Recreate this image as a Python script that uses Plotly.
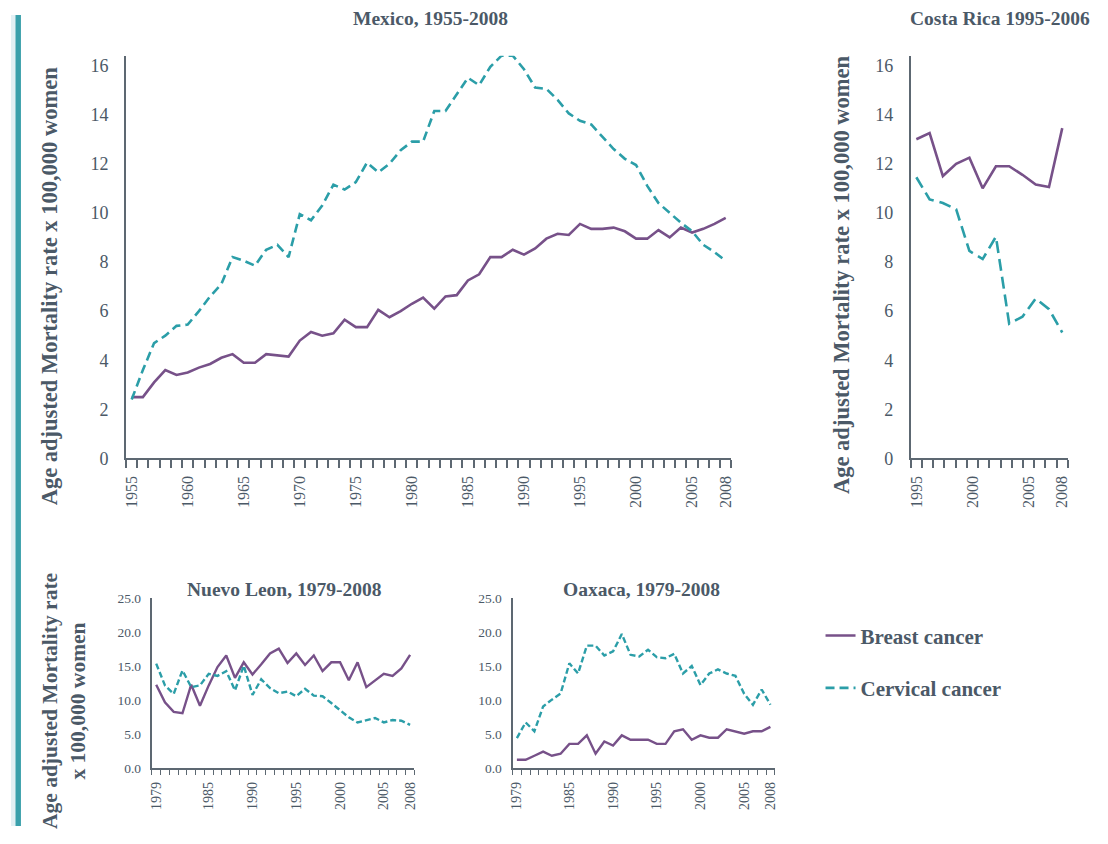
import plotly.graph_objects as go

# the page keeps the browser's default 8px body margin, so the figure is 16px smaller
OFF = 8
FW, FH = 1108 - 2 * OFF, 844 - 2 * OFF
# small vertical correction measured from earlier renders (pixels squeeze ~2% about mid-height)
VSCALE, VMID = 0.98, 422

purple = "#775189"
teal = "#2b9ea8"
axis_col = "#5d6872"
text_col = "#4b5967"
font_fam = "Liberation Serif"

# Mexico, 1955-2008
mx_years = list(range(1955, 2009))
mx_breast = [2.5, 2.5, 3.1, 3.6, 3.4, 3.5, 3.7, 3.85, 4.1, 4.25,
             3.9, 3.9, 4.25, 4.2, 4.15, 4.8, 5.15, 5.0, 5.1, 5.65,
             5.35, 5.35, 6.05, 5.75, 6.0, 6.3, 6.55, 6.1, 6.6, 6.65,
             7.25, 7.5, 8.2, 8.2, 8.5, 8.3, 8.55, 8.95, 9.15, 9.1,
             9.55, 9.35, 9.35, 9.4, 9.25, 8.95, 8.95, 9.3, 9.0, 9.4,
             9.2, 9.35, 9.55, 9.8]
mx_cervical = [2.4, 3.6, 4.7, 5.0, 5.4, 5.45, 6.0, 6.6, 7.1, 8.2,
               8.05, 7.85, 8.5, 8.7, 8.2, 9.95, 9.7, 10.3, 11.15, 10.95,
               11.25, 12.05, 11.65, 12.0, 12.55, 12.9, 12.9, 14.15, 14.15, 14.85,
               15.5, 15.2, 15.95, 16.4, 16.4, 15.85, 15.1, 15.05, 14.6, 14.05,
               13.75, 13.6, 13.1, 12.6, 12.2, 11.95, 11.1, 10.4, 10.0, 9.6,
               9.25, 8.7, 8.4, 8.05]
mx_ticks = [1955, 1960, 1965, 1970, 1975, 1980, 1985, 1990, 1995, 2000, 2005, 2008]

# Costa Rica 1995-2006 (12 data years drawn across a 1995-2008 category axis)
cr_years = list(range(1995, 2007))
cr_breast = [13.0, 13.25, 11.5, 12.0, 12.25, 11.0, 11.9, 11.9, 11.55, 11.15, 11.05, 13.45]
cr_cervical = [11.45, 10.55, 10.4, 10.15, 8.45, 8.12, 9.03, 5.49, 5.77, 6.51, 6.08, 5.13]
cr_axis_years = list(range(1995, 2009))
cr_ticks = [1995, 2000, 2005, 2008]

# Nuevo Leon and Oaxaca, 1979-2008
st_years = list(range(1979, 2009))
nl_breast = [12.3, 9.7, 8.3, 8.1, 12.3, 9.2, 12.2, 14.9, 16.6, 13.3,
             15.6, 13.8, 15.3, 16.9, 17.6, 15.5, 16.9, 15.2, 16.6, 14.3,
             15.6, 15.6, 12.95, 15.6, 11.95, 12.95, 13.9, 13.6, 14.7, 16.7]
nl_cervical = [15.4, 12.2, 10.95, 14.4, 11.95, 12.2, 13.9, 13.6, 14.3, 11.45,
               15.1, 10.8, 13.1, 11.8, 11.05, 11.3, 10.6, 11.7, 10.7, 10.6,
               9.6, 8.6, 7.5, 6.75, 7.1, 7.4, 6.75, 7.1, 7.0, 6.4]
ox_breast = [1.25, 1.25, 1.85, 2.45, 1.85, 2.15, 3.6, 3.6, 4.85, 2.15,
             3.95, 3.35, 4.85, 4.2, 4.2, 4.2, 3.6, 3.6, 5.45, 5.75,
             4.2, 4.85, 4.5, 4.5, 5.75, 5.45, 5.1, 5.45, 5.45, 6.1]
ox_cervical = [4.45, 6.75, 5.45, 9.1, 10.1, 11.0, 15.45, 13.95, 18.05, 18.05,
               16.6, 17.2, 19.75, 16.7, 16.45, 17.45, 16.35, 16.2, 16.85, 13.95,
               15.05, 12.25, 13.95, 14.55, 13.95, 13.6, 10.95, 9.35, 11.6, 9.35]
st_ticks = [1979, 1985, 1990, 1995, 2000, 2005, 2008]

y_title = "Age adjusted Mortality rate x 100,000 women"


def fx(px):
    return (px - OFF) / FW


def fy(px):
    px = VMID + (px - VMID) / VSCALE
    return 1 - (px - OFF) / FH


def px_x(a, b):
    return [fx(a), fx(b)]


def px_y(top, bottom):
    return [fy(bottom), fy(top)]


fig = go.Figure()

def add_pair(x, breast, cervical, xa, ya, dash, width=2.6, legend=False):
    fig.add_trace(go.Scatter(x=x, y=breast, mode="lines", name="Breast cancer",
                             line=dict(color=purple, width=width),
                             xaxis=xa, yaxis=ya, showlegend=legend, legendgroup="b"))
    fig.add_trace(go.Scatter(x=x, y=cervical, mode="lines", name="Cervical cancer",
                             line=dict(color=teal, width=width, dash=dash),
                             xaxis=xa, yaxis=ya, showlegend=legend, legendgroup="c"))

add_pair(mx_years, mx_breast, mx_cervical, "x", "y", "9px,5px", legend=True)
add_pair(cr_years, cr_breast, cr_cervical, "x3", "y2", "12px,6px")
add_pair(st_years, nl_breast, nl_cervical, "x4", "y4", "6px,3px", width=2.4)
add_pair(st_years, ox_breast, ox_cervical, "x5", "y5", "6px,3px", width=2.4)

# empty trace so the labelled Costa Rica category axis gets drawn
fig.add_trace(go.Scatter(x=cr_axis_years, y=[None] * len(cr_axis_years), mode="lines",
                         xaxis="x2", yaxis="y2", showlegend=False, hoverinfo="skip"))

base_x = dict(showline=True, linecolor=axis_col, linewidth=2, showgrid=False,
              zeroline=False, ticks="", tickangle=-90, ticklabelstandoff=9,
              tickfont=dict(family=font_fam, size=16, color=text_col))
base_y = dict(showline=True, linecolor=axis_col, linewidth=2, showgrid=False,
              zeroline=False, ticks="", ticklabelstandoff=12,
              tickfont=dict(family=font_fam, size=18, color=text_col))
small_xfont = dict(family=font_fam, size=14, color=text_col)
small_yfont = dict(family=font_fam, size=13.5, color=text_col)

fig.update_layout(
    xaxis=dict(base_x, domain=px_x(123.7, 732.3), range=[1954.5, 2008.5],
               tickvals=mx_ticks, anchor="y",
               minor=dict(ticks="outside", tick0=1954.5, dtick=1, ticklen=8,
                          tickcolor=axis_col, tickwidth=1.5)),
    yaxis=dict(base_y, domain=px_y(57, 460), range=[0, 16.4], dtick=2, anchor="x"),
    xaxis2=dict(base_x, domain=px_x(912.7, 1070.7),
                range=[cr_axis_years[0] - 0.5, cr_axis_years[-1] + 0.5],
                tickvals=cr_ticks, anchor="y2",
                minor=dict(ticks="outside", tick0=1994.5, dtick=1, ticklen=8,
                           tickcolor=axis_col, tickwidth=1.5)),
    xaxis3=dict(overlaying="x2", visible=False, domain=px_x(912.7, 1070.7),
                range=[cr_years[0] - 0.5 * (len(cr_years) - 1) / (len(cr_axis_years) - 1),
                       cr_years[-1] + 0.5 * (len(cr_years) - 1) / (len(cr_axis_years) - 1)],
                anchor="y2"),
    yaxis2=dict(base_y, domain=px_y(57, 460), range=[0, 16.4], dtick=2, anchor="x2"),
    xaxis4=dict(base_x, domain=px_x(149.6, 413.7), range=[1978.5, 2008.5],
                tickvals=st_ticks, anchor="y4", ticklabelstandoff=6, tickfont=small_xfont,
                minor=dict(ticks="outside", tick0=1978.5, dtick=1, ticklen=5,
                           tickcolor=axis_col, tickwidth=1.2)),
    yaxis4=dict(base_y, domain=px_y(600, 770), range=[0, 25], dtick=5, tickformat=".1f",
                anchor="x4", ticklabelstandoff=6, tickfont=small_yfont),
    xaxis5=dict(base_x, domain=px_x(512.3, 776), range=[1978.5, 2008.5],
                tickvals=st_ticks, anchor="y5", ticklabelstandoff=6, tickfont=small_xfont,
                minor=dict(ticks="outside", tick0=1978.5, dtick=1, ticklen=5,
                           tickcolor=axis_col, tickwidth=1.2)),
    yaxis5=dict(base_y, domain=px_y(600, 770), range=[0, 25], dtick=5, tickformat=".1f",
                anchor="x5", ticklabelstandoff=6, tickfont=small_yfont),
)

annos = [
    (430, 20, "Mexico, 1955-2008"),
    (1002, 20, "Costa Rica 1995-2006"),
    (283, 591, "Nuevo Leon, 1979-2008"),
    (642, 591, "Oaxaca, 1979-2008"),
]
for xc, yc, txt in annos:
    fig.add_annotation(x=fx(xc), y=fy(yc), xref="paper", yref="paper",
                       text="<b>" + txt + "</b>", showarrow=False,
                       font=dict(family=font_fam, size=19.5, color=text_col),
                       xanchor="center", yanchor="middle")

for xc, yc, txt, sz in [(47, 287, y_title, 22.5), (843, 276, y_title, 22.5),
                        (62, 703, "Age adjusted Mortality rate<br>x 100,000 women", 21.5)]:
    fig.add_annotation(x=fx(xc), y=fy(yc), xref="paper", yref="paper",
                       text="<b>" + txt + "</b>", showarrow=False, textangle=-90,
                       font=dict(family=font_fam, size=sz, color=text_col),
                       xanchor="center", yanchor="middle")

# left edge decoration
fig.add_shape(type="rect", xref="paper", yref="paper", x0=0, x1=fx(12.5), y0=0, y1=1,
              fillcolor="#e2f0f4", line_width=0, layer="below")
fig.add_shape(type="rect", xref="paper", yref="paper", x0=fx(12.5), x1=fx(18), y0=0, y1=1,
              fillcolor="#3aa0ab", line_width=0, layer="below")

fig.update_layout(
    width=FW, height=FH,
    margin=dict(l=0, r=0, t=0, b=0),
    paper_bgcolor="white", plot_bgcolor="white",
    showlegend=True,
    legend=dict(x=fx(822), y=fy(617), xanchor="left", yanchor="top",
                tracegroupgap=22, itemwidth=30, bgcolor="rgba(0,0,0,0)",
                font=dict(family=font_fam, size=21, color=text_col, weight="bold"),
                traceorder="grouped"),
)

fig.write_html("out.html", config={"displayModeBar": False})
